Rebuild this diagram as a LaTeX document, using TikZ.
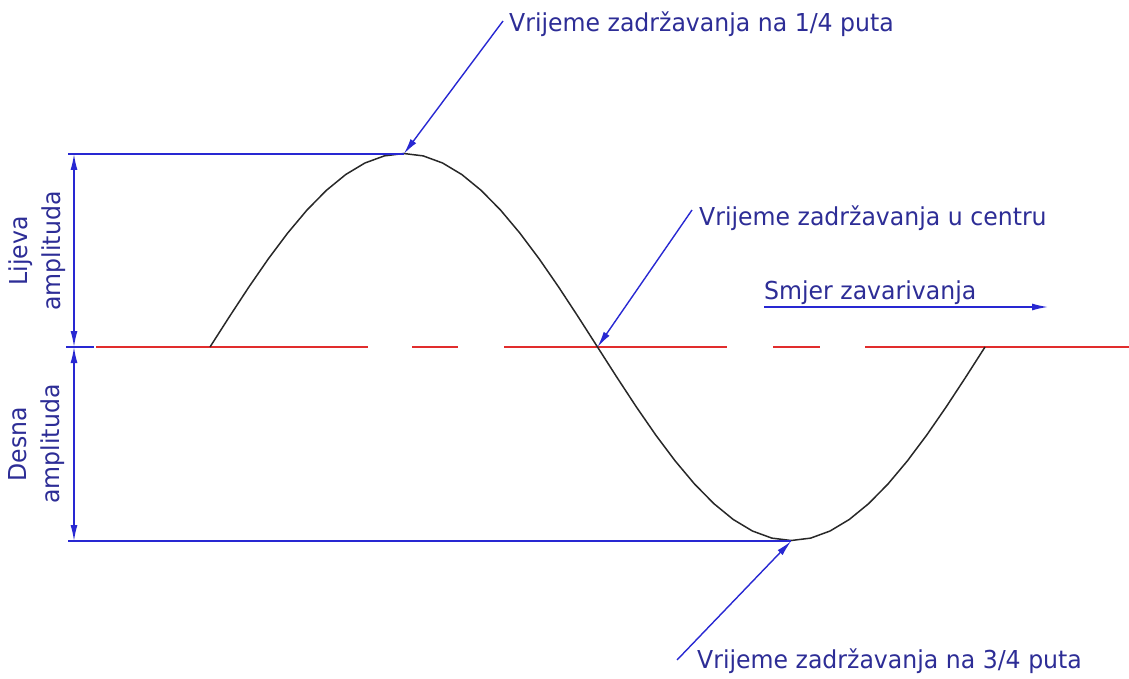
\documentclass[tikz,border=0pt]{standalone}
\usepackage{fontspec}
\setmainfont{DejaVu Sans}[FakeStretch=0.955]
\usetikzlibrary{arrows.meta}
\definecolor{dimblue}{RGB}{40,40,210}
\definecolor{txtblue}{RGB}{45,45,150}
\definecolor{axred}{RGB}{225,45,45}
\definecolor{curvec}{RGB}{40,40,40}
\begin{document}
\begin{tikzpicture}[x=1pt,y=-1pt,
  lbl/.style={text=txtblue,font=\fontsize{24.7}{33}\selectfont,inner sep=0pt},
  dimline/.style={draw=dimblue,line width=1.4pt},
  tipend/.style={-{Latex[length=16pt,width=7pt]}},
  tipboth/.style={{Latex[length=16pt,width=7pt]}-{Latex[length=16pt,width=7pt]}},
  wave/.style={draw=curvec,line width=1.5pt},
  axis/.style={draw=axred,line width=1.3pt}]
\useasboundingbox (0,0) rectangle (1129,679);

% key points
\coordinate (start) at (210,347);
\coordinate (peak) at (403.75,154);
\coordinate (mid) at (597.5,347);
\coordinate (trough) at (791.25,541);
\coordinate (stop) at (985,347);

% axis (red, interrupted)
\coordinate (axL) at (96,347);
\coordinate (axR) at (1129,347);
\draw[axis,dash pattern=on 272pt off 44pt on 46pt off 46pt on 223pt off 46pt on 47pt off 45pt on 300pt off 10pt] (axL) -- (axR);

% sine curve
\draw[wave] plot[domain=0:360,samples=41] ({210+\x*2.152778},{347-193.5*sin(\x)});

% extension lines
\coordinate (eT) at (68,154);
\coordinate (eM) at (66,347);
\coordinate (eMr) at (94,347);
\coordinate (eB) at (68,541);
\draw[dimline] (eT) -- (peak);
\draw[dimline] (eB) -- (trough);
\draw[dimline] (eM) -- (eMr);

% dimension lines
\coordinate (dT) at (74,154);
\coordinate (dM) at (74,347);
\coordinate (dB) at (74,541);
\draw[dimline,tipboth] (dT) -- (dM);
\draw[dimline,tipboth] (dM) -- (dB);

% rotated labels
\node[lbl,rotate=90,align=center] (lijeva) at (37,251) {Lijeva\\amplituda};
\node[lbl,rotate=90,align=center] (desna) at (37,444) {Desna\\amplituda};

% leader labels
\node[lbl,anchor=base west] (tq1) at (509,32) {Vrijeme zadržavanja na 1/4 puta};
\node[lbl,anchor=base west] (tc) at (699,225) {Vrijeme zadržavanja u centru};
\node[lbl,anchor=base west] (tq3) at (697,668) {Vrijeme zadržavanja na 3/4 puta};
\node[lbl,anchor=base west] (tdir) at (764,299) {Smjer zavarivanja};

\coordinate (l1) at (503,21);
\coordinate (l2) at (692,210);
\coordinate (l3) at (677,660);
\draw[dimline,tipend] (l1) -- (peak);
\draw[dimline,tipend] (l2) -- (mid);
\draw[dimline,tipend] (l3) -- (trough);

% direction arrow
\coordinate (dirL) at (764,307);
\coordinate (dirR) at (1048,307);
\draw[dimline,tipend] (dirL) -- (dirR);
\end{tikzpicture}
\end{document}
